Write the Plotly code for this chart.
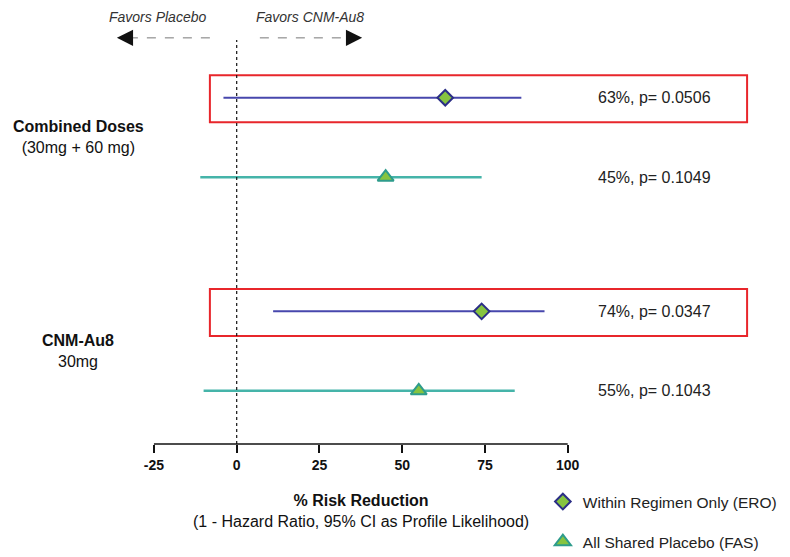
import plotly.graph_objects as go

# ---- data ----
groups = ["Combined Doses", "CNM-Au8"]
group_sub = ["(30mg + 60 mg)", "30mg"]
ero_est = [63, 74]
ero_lo = [-4, 11]
ero_hi = [86, 93]
ero_p = ["0.0506", "0.0347"]
fas_est = [45, 55]
fas_lo = [-11, -10]
fas_hi = [74, 84]
fas_p = ["0.1049", "0.1043"]
tick_vals = [-25, 0, 25, 50, 75, 100]
series_names = ["Within Regimen Only (ERO)", "All Shared Placebo (FAS)"]

group_y = [1, 0]
off = 0.186
ero_y = [g + off for g in group_y]
fas_y = [g - off for g in group_y]

FONT = "Arial, Liberation Sans, Helvetica, sans-serif"
ERO_LINE = "#4747AD"
ERO_EDGE = "#2B2E86"
FAS_LINE = "#45B4A9"
FAS_EDGE = "#2E9C8C"
GREEN = "#86C440"

fig = go.Figure()

fig.add_trace(go.Scatter(
    x=ero_est, y=ero_y, mode="markers", name=series_names[0],
    legendgroup="ero",
    marker=dict(symbol="diamond", size=12, color=GREEN,
                line=dict(color=ERO_EDGE, width=2)),
    error_x=dict(type="data", symmetric=False,
                 array=[h - e for h, e in zip(ero_hi, ero_est)],
                 arrayminus=[e - l for e, l in zip(ero_est, ero_lo)],
                 color=ERO_LINE, thickness=2, width=0),
))
fig.add_trace(go.Scatter(
    x=fas_est, y=fas_y, mode="markers", name=series_names[1],
    legendgroup="fas",
    marker=dict(symbol="triangle-up", size=14, color=GREEN,
                line=dict(color=FAS_EDGE, width=2)),
    error_x=dict(type="data", symmetric=False,
                 array=[h - e for h, e in zip(fas_hi, fas_est)],
                 arrayminus=[e - l for e, l in zip(fas_est, fas_lo)],
                 color=FAS_LINE, thickness=2.5, width=0),
))

shapes = []
annotations = []

# red highlight boxes around ERO rows
for y in ero_y:
    shapes.append(dict(type="rect", xref="x", yref="y",
                       x0=-8.1, x1=154.2, y0=y - 0.115, y1=y + 0.105,
                       line=dict(color="#E8262B", width=2), layer="below"))

# dotted zero line
shapes.append(dict(type="line", xref="x", yref="paper", x0=0, x1=0, y0=0, y1=0.976,
                   line=dict(color="#111", width=1.2, dash="dot")))
# axis line
shapes.append(dict(type="line", xref="x", yref="paper", x0=-25, x1=100, y0=0, y1=0,
                   line=dict(color="#111", width=1.5)))

# favors arrows (dashed shafts + arrow heads)
shapes.append(dict(type="line", xref="x", yref="paper", x0=-8.1, x1=-33, y0=0.981, y1=0.981,
                   line=dict(color="#777", width=1, dash="dash")))
shapes.append(dict(type="line", xref="x", yref="paper", x0=7.0, x1=35, y0=0.981, y1=0.981,
                   line=dict(color="#777", width=1, dash="dash")))
annotations.append(dict(x=-36.2, y=0.981, xref="x", yref="paper", ax=12, ay=0,
                        text="", showarrow=True, arrowhead=2, arrowsize=2.7,
                        arrowwidth=1.2, arrowcolor="#111"))
annotations.append(dict(x=37.9, y=0.981, xref="x", yref="paper", ax=-12, ay=0,
                        text="", showarrow=True, arrowhead=2, arrowsize=2.7,
                        arrowwidth=1.2, arrowcolor="#111"))
annotations.append(dict(x=-24.0, y=1.031, xref="x", yref="paper", showarrow=False,
                        xanchor="center", yanchor="middle",
                        text="<i>Favors Placebo</i>", font=dict(size=14, color="#333")))
annotations.append(dict(x=22.2, y=1.031, xref="x", yref="paper", showarrow=False,
                        xanchor="center", yanchor="middle",
                        text="<i>Favors CNM-Au8</i>", font=dict(size=14, color="#333")))

# group labels
for g, s, y in zip(groups, group_sub, group_y):
    annotations.append(dict(x=-0.033, y=y, xref="paper", yref="y", showarrow=False,
                            xanchor="center", yanchor="middle", align="center",
                            text=f"<b>{g}</b><br>{s}",
                            font=dict(size=16, color="#111")))

# value labels
for e, p, y in zip(ero_est, ero_p, ero_y):
    annotations.append(dict(x=108.5, y=y, xref="x", yref="y", showarrow=False,
                            xanchor="left", yanchor="middle", text=f"{e}%, p= {p}",
                            font=dict(size=16, color="#222")))
for e, p, y in zip(fas_est, fas_p, fas_y):
    annotations.append(dict(x=108.5, y=y, xref="x", yref="y", showarrow=False,
                            xanchor="left", yanchor="middle", text=f"{e}%, p= {p}",
                            font=dict(size=16, color="#222")))

# x-axis title
annotations.append(dict(x=37.5, y=-0.163, xref="x", yref="paper", showarrow=False,
                        xanchor="center", yanchor="middle", align="center",
                        text="<b>% Risk Reduction</b><br>(1 - Hazard Ratio, 95% CI as Profile Likelihood)",
                        font=dict(size=16, color="#111")))

fig.update_layout(
    width=790, height=557,
    margin=dict(l=92, r=38, t=22, b=121, autoexpand=False),
    paper_bgcolor="white", plot_bgcolor="white",
    font=dict(family=FONT, color="#111"),
    shapes=shapes, annotations=annotations,
    showlegend=True,
    legend=dict(x=0.671, y=-0.099, xanchor="left", yanchor="top",
                traceorder="grouped", tracegroupgap=17,
                font=dict(size=15.5, color="#222"), bgcolor="rgba(0,0,0,0)"),
    xaxis=dict(range=[-41.3, 158.1], tickvals=tick_vals,
               ticktext=[f"<b>{v}</b>" for v in tick_vals],
               ticks="outside", ticklen=8, tickwidth=1.5, tickcolor="#111",
               ticklabelstandoff=0,
               showgrid=False, zeroline=False, showline=False,
               tickfont=dict(size=14, color="#111")),
    yaxis=dict(range=[-0.435, 1.503], visible=False, showgrid=False, zeroline=False),
)

fig.write_html("out.html")
